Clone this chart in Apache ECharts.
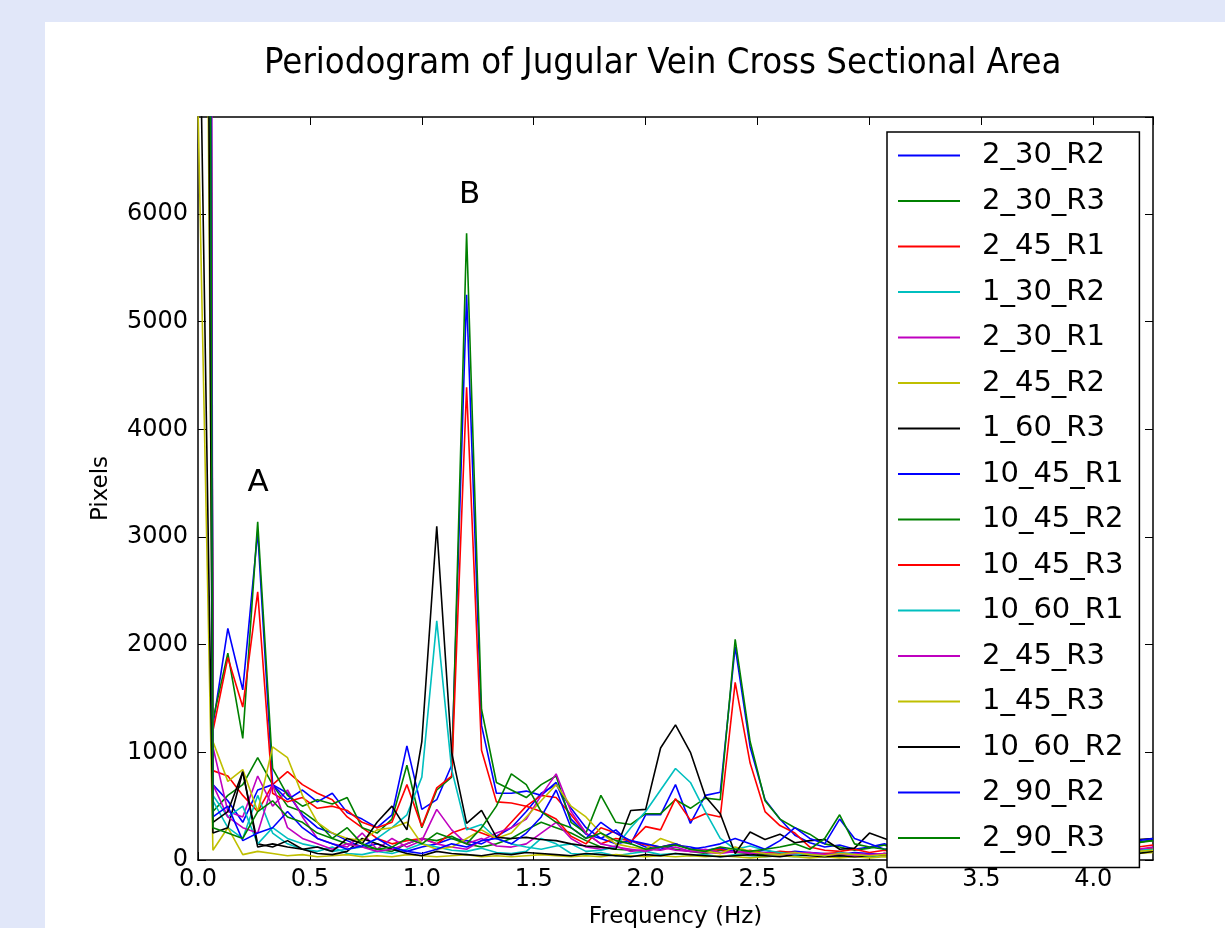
<!DOCTYPE html>
<html lang="en">

<head>
    <meta charset="UTF-8">
    <title>Periodogram of Jugular Vein Cross Sectional Area</title>
    <style>
        body { margin: 0; background: #e1e7f9; }
        #panel { position: absolute; left: 45px; top: 22px; right: 0; bottom: 0; background: #fff; }
        #chart { position: absolute; left: 0; top: 0; width: 1225px; height: 928px; }
    </style>
</head>

<body>
    <div id="panel"></div>
    <div id="chart"></div>
</body>
<script src="https://cdn.jsdelivr.net/npm/echarts@6/dist/echarts.min.js"></script>
<script>
    // frequency bins (Hz)
    var freq = [0, 0.0667, 0.1333, 0.2, 0.2667, 0.3333, 0.4, 0.4667, 0.5333, 0.6, 0.6667, 0.7333, 0.8, 0.8667, 0.9333,
        1.0, 1.0667, 1.1333, 1.2, 1.2667, 1.3333, 1.4, 1.4667, 1.5333, 1.6, 1.6667, 1.7333, 1.8, 1.8667, 1.9333,
        2.0, 2.0667, 2.1333, 2.2, 2.2667, 2.3333, 2.4, 2.4667, 2.5333, 2.6, 2.6667, 2.7333, 2.8, 2.8667, 2.9333,
        3.0, 3.0667, 3.1333, 3.2, 3.2667, 3.3333, 3.4, 3.4667, 3.5333, 3.6, 3.6667, 3.7333, 3.8, 3.8667, 3.9333,
        4.0, 4.0667, 4.1333, 4.2, 4.2667];

    var s2_30_R2 = [60000, 700, 550, 350, 650, 700, 620, 420, 300, 250, 180, 120, 150, 100, 80, 120, 150, 200, 180, 150, 220, 300, 450, 620, 700, 480, 300, 200, 150, 180, 120, 100, 140, 120, 90, 110, 80, 70, 90, 60, 80, 70, 60, 50, 70, 60, 50, 70, 60, 50, 40, 60, 50, 40, 50, 60, 40, 50, 60, 40, 50, 60, 70, 80, 90];
    var s2_30_R3 = [55000, 450, 600, 700, 950, 700, 500, 450, 350, 200, 150, 120, 100, 80, 150, 200, 180, 220, 150, 120, 150, 200, 280, 350, 300, 250, 180, 120, 100, 90, 80, 120, 100, 80, 60, 90, 70, 60, 50, 60, 70, 50, 40, 60, 50, 40, 60, 50, 40, 30, 50, 40, 30, 50, 40, 30, 40, 50, 40, 30, 50, 60, 70, 80, 100];
    var s2_45_R1 = [35000, 830, 780, 600, 450, 700, 820, 700, 620, 560, 400, 300, 200, 150, 180, 200, 150, 250, 300, 250, 200, 350, 500, 600, 580, 420, 250, 150, 200, 180, 140, 120, 150, 100, 80, 100, 70, 90, 60, 80, 70, 50, 60, 70, 50, 40, 60, 50, 40, 50, 60, 40, 50, 40, 30, 50, 40, 30, 50, 40, 50, 60, 70, 90, 110];
    var s1_30_R2 = [28000, 550, 300, 200, 600, 250, 150, 100, 80, 120, 60, 50, 80, 60, 100, 150, 120, 90, 80, 110, 70, 60, 80, 200, 150, 60, 50, 70, 40, 60, 80, 50, 60, 40, 50, 30, 50, 40, 30, 40, 30, 50, 40, 30, 40, 30, 40, 30, 40, 30, 20, 30, 40, 30, 20, 30, 40, 30, 20, 30, 40, 50, 60, 70, 80];
    var s2_30_R1 = [70000, 1050, 450, 400, 780, 500, 650, 400, 200, 150, 120, 250, 100, 200, 120, 180, 470, 280, 150, 200, 130, 120, 150, 250, 350, 200, 120, 100, 130, 80, 100, 90, 120, 80, 70, 60, 80, 70, 60, 50, 70, 60, 50, 40, 60, 50, 40, 60, 50, 40, 50, 40, 50, 60, 40, 50, 40, 50, 60, 40, 50, 70, 80, 90, 100];
    var s2_45_R2 = [7000, 90, 300, 50, 80, 60, 40, 50, 30, 40, 50, 30, 40, 30, 50, 40, 30, 40, 50, 30, 40, 30, 40, 50, 40, 30, 40, 30, 50, 40, 30, 40, 30, 40, 30, 40, 30, 20, 30, 40, 30, 20, 30, 20, 30, 20, 30, 20, 30, 20, 30, 20, 30, 20, 30, 20, 30, 20, 30, 20, 30, 40, 50, 60, 70];
    var s1_60_R3 = [9000, 250, 300, 820, 150, 120, 180, 100, 60, 50, 80, 200, 150, 100, 60, 40, 80, 60, 50, 40, 60, 50, 70, 60, 50, 40, 60, 50, 40, 30, 50, 40, 60, 50, 40, 30, 40, 50, 40, 30, 50, 40, 30, 40, 30, 40, 50, 40, 30, 40, 30, 40, 30, 40, 30, 20, 30, 40, 30, 20, 30, 40, 50, 60, 80];
    var s10_45_R1 = [45000, 1250, 2150, 1580, 3050, 700, 560, 650, 540, 620, 440, 380, 300, 420, 1060, 470, 560, 880, 5250, 1250, 620, 620, 640, 600, 720, 380, 240, 200, 280, 150, 420, 420, 700, 340, 600, 630, 1980, 1050, 560, 380, 230, 160, 120, 140, 100, 120, 150, 100, 140, 110, 90, 130, 100, 80, 120, 90, 110, 80, 100, 130, 90, 110, 140, 160, 190];
    var s10_45_R2 = [50000, 1300, 1920, 1130, 3140, 850, 600, 500, 560, 520, 580, 300, 250, 380, 880, 300, 650, 770, 5820, 1400, 720, 650, 580, 700, 780, 350, 250, 600, 350, 330, 430, 430, 560, 480, 575, 560, 2050, 1100, 550, 380, 300, 240, 150, 120, 90, 110, 140, 90, 120, 100, 80, 110, 120, 90, 100, 80, 120, 90, 110, 100, 80, 120, 150, 170, 180];
    var s10_45_R3 = [40000, 1200, 1880, 1420, 2490, 620, 540, 580, 480, 500, 460, 350, 300, 350, 700, 310, 670, 780, 4390, 1020, 540, 530, 500, 450, 380, 220, 150, 300, 250, 170, 310, 280, 570, 370, 430, 400, 1650, 900, 450, 320, 250, 120, 90, 80, 100, 70, 90, 60, 80, 70, 60, 90, 70, 60, 80, 70, 60, 90, 70, 80, 60, 90, 100, 120, 140];
    var s10_60_R1 = [30000, 600, 400, 500, 150, 300, 200, 150, 120, 80, 100, 120, 200, 300, 420, 770, 2220, 840, 280, 330, 200, 150, 120, 100, 130, 150, 80, 90, 120, 300, 450, 650, 850, 720, 450, 200, 100, 130, 90, 70, 50, 60, 40, 70, 50, 40, 60, 50, 40, 60, 50, 40, 60, 50, 40, 60, 50, 40, 60, 50, 40, 60, 80, 90, 100];
    var s2_45_R3 = [65000, 700, 400, 300, 250, 700, 300, 200, 150, 100, 150, 120, 80, 100, 150, 200, 150, 120, 100, 180, 250, 300, 380, 600, 800, 450, 250, 150, 120, 100, 80, 120, 90, 80, 100, 70, 80, 60, 70, 50, 60, 70, 50, 60, 40, 50, 60, 40, 50, 40, 50, 60, 40, 50, 40, 60, 50, 40, 50, 60, 70, 80, 90, 100, 120];
    var s1_45_R3 = [20000, 1100, 730, 840, 450, 1050, 950, 600, 350, 250, 200, 180, 280, 300, 350, 150, 100, 120, 200, 280, 200, 250, 400, 550, 700, 500, 400, 250, 150, 120, 100, 200, 150, 100, 80, 60, 120, 80, 60, 50, 70, 50, 40, 60, 50, 40, 50, 40, 30, 40, 50, 30, 40, 30, 40, 30, 40, 30, 40, 50, 40, 60, 70, 80, 90];
    var s10_60_R2 = [25000, 350, 450, 820, 120, 150, 120, 100, 120, 80, 200, 150, 350, 500, 280, 1100, 3100, 1000, 340, 460, 210, 200, 210, 190, 180, 150, 130, 120, 100, 460, 470, 1040, 1255, 1000, 590, 430, 60, 260, 190, 240, 160, 180, 190, 100, 110, 250, 200, 150, 120, 180, 100, 130, 90, 110, 80, 100, 120, 90, 100, 80, 110, 130, 170, 190, 200];
    var s2_90_R2 = [50000, 400, 500, 180, 250, 300, 450, 300, 200, 150, 100, 130, 200, 120, 80, 60, 100, 150, 120, 180, 200, 150, 250, 400, 650, 300, 200, 350, 250, 180, 150, 120, 150, 100, 120, 150, 200, 150, 100, 180, 300, 200, 150, 380, 200, 150, 100, 120, 90, 80, 100, 70, 80, 60, 70, 80, 60, 70, 80, 60, 100, 120, 150, 180, 200];
    var s2_90_R3 = [45000, 300, 250, 200, 450, 550, 400, 350, 250, 200, 300, 150, 100, 120, 200, 150, 250, 200, 150, 300, 500, 800, 700, 450, 350, 300, 200, 250, 180, 150, 100, 120, 140, 100, 80, 120, 100, 80, 100, 120, 150, 100, 200, 420, 150, 120, 100, 80, 100, 90, 80, 70, 90, 80, 60, 70, 80, 60, 70, 90, 100, 120, 140, 160, 180];

    var names = ['2_30_R2', '2_30_R3', '2_45_R1', '1_30_R2', '2_30_R1', '2_45_R2', '1_60_R3', '10_45_R1',
        '10_45_R2', '10_45_R3', '10_60_R1', '2_45_R3', '1_45_R3', '10_60_R2', '2_90_R2', '2_90_R3'];
    var values = [s2_30_R2, s2_30_R3, s2_45_R1, s1_30_R2, s2_30_R1, s2_45_R2, s1_60_R3, s10_45_R1,
        s10_45_R2, s10_45_R3, s10_60_R1, s2_45_R3, s1_45_R3, s10_60_R2, s2_90_R2, s2_90_R3];
    // matplotlib classic colour cycle
    var colors = ['#0000ff', '#008000', '#ff0000', '#00bfbf', '#bf00bf', '#bfbf00', '#000000'];

    // peak annotations
    var annotText = ['A', 'B'];
    var annotX = [0.268, 1.214];
    var annotY = [3500, 6175];

    var xTicks = [0, 0.5, 1.0, 1.5, 2.0, 2.5, 3.0, 3.5, 4.0];
    var yTicks = [0, 1000, 2000, 3000, 4000, 5000, 6000];

    var axisFont = 'DejaVu Sans';
    var black = '#000';

    function makeSeries() {
        return names.map(function (name, k) {
            var s = {
                name: name,
                type: 'line',
                symbol: 'none',
                animation: false,
                lineStyle: { width: 1.6, color: colors[k % 7] },
                itemStyle: { color: colors[k % 7] },
                data: freq.map(function (f, i) { return [f, values[k][i]]; })
            };
            if (k === names.length - 1) {
                s.markPoint = {
                    symbol: 'rect',
                    symbolSize: 1,
                    itemStyle: { color: 'rgba(0,0,0,0)' },
                    label: { show: true, position: 'inside', color: black, fontSize: 31, fontFamily: axisFont },
                    data: annotText.map(function (t, i) {
                        return { coord: [annotX[i], annotY[i]], value: t, label: { formatter: t } };
                    })
                };
            }
            return s;
        });
    }

    var myChart = echarts.init(document.getElementById('chart'));
    var option = {
        backgroundColor: 'transparent',
        animation: false,
        title: {
            text: 'Periodogram of Jugular Vein Cross Sectional Area',
            left: 259,
            top: 41,
            textStyle: { fontFamily: "'Liberation Sans Narrow', 'DejaVu Sans Condensed', sans-serif", fontSize: 36.2, fontWeight: 'normal', color: black }
        },
        grid: { left: 198, right: 72, top: 117, bottom: 68, outerBoundsMode: 'none' },
        legend: {
            orient: 'vertical',
            left: 887,
            top: 132,
            z: 10,
            icon: 'rect',
            itemWidth: 62,
            itemHeight: 2,
            itemGap: 16.5,
            padding: [9, 16, 15, 11],
            backgroundColor: '#fff',
            borderColor: black,
            borderWidth: 1.5,
            borderRadius: 0,
            textStyle: { fontFamily: axisFont, fontSize: 29, color: black, padding: [0, 0, 0, 17] },
            data: names
        },
        xAxis: [{
            type: 'value', min: 0, max: 4.2667, interval: 0.5,
            name: 'Frequency (Hz)', nameLocation: 'middle', nameGap: 46,
            nameTextStyle: { fontFamily: axisFont, fontSize: 23, color: black },
            axisLine: { onZero: false, lineStyle: { color: black, width: 1.5 } },
            axisTick: { inside: true, length: 8, lineStyle: { color: black } },
            axisLabel: {
                fontFamily: axisFont, fontSize: 24, color: black, margin: 8, showMaxLabel: false,
                formatter: function (v) { return xTicks.indexOf(v) >= 0 ? v.toFixed(1) : ''; }
            },
            splitLine: { show: false }
        }, {
            type: 'value', min: 0, max: 4.2667, interval: 0.5, position: 'top',
            axisLine: { onZero: false, lineStyle: { color: black, width: 1.5 } },
            axisTick: { inside: true, length: 8, lineStyle: { color: black } },
            axisLabel: { show: false },
            splitLine: { show: false }
        }],
        yAxis: [{
            type: 'value', min: 0, max: 6900, interval: 1000,
            name: 'Pixels', nameLocation: 'middle', nameGap: 85, nameRotate: 90,
            nameTextStyle: { fontFamily: axisFont, fontSize: 23, color: black },
            axisLine: { show: true, onZero: false, lineStyle: { color: black, width: 1.5 } },
            axisTick: { show: true, inside: true, length: 8, lineStyle: { color: black } },
            axisLabel: {
                fontFamily: axisFont, fontSize: 24, color: black, margin: 10, showMaxLabel: false,
                formatter: function (v) { return yTicks.indexOf(v) >= 0 ? String(v) : ''; }
            },
            splitLine: { show: false }
        }, {
            type: 'value', min: 0, max: 6900, interval: 1000, position: 'right',
            axisLine: { show: true, onZero: false, lineStyle: { color: black, width: 1.5 } },
            axisTick: { show: true, inside: true, length: 8, lineStyle: { color: black } },
            axisLabel: { show: false },
            splitLine: { show: false }
        }],
        series: makeSeries()
    };
    myChart.setOption(option);
</script>

</html>
